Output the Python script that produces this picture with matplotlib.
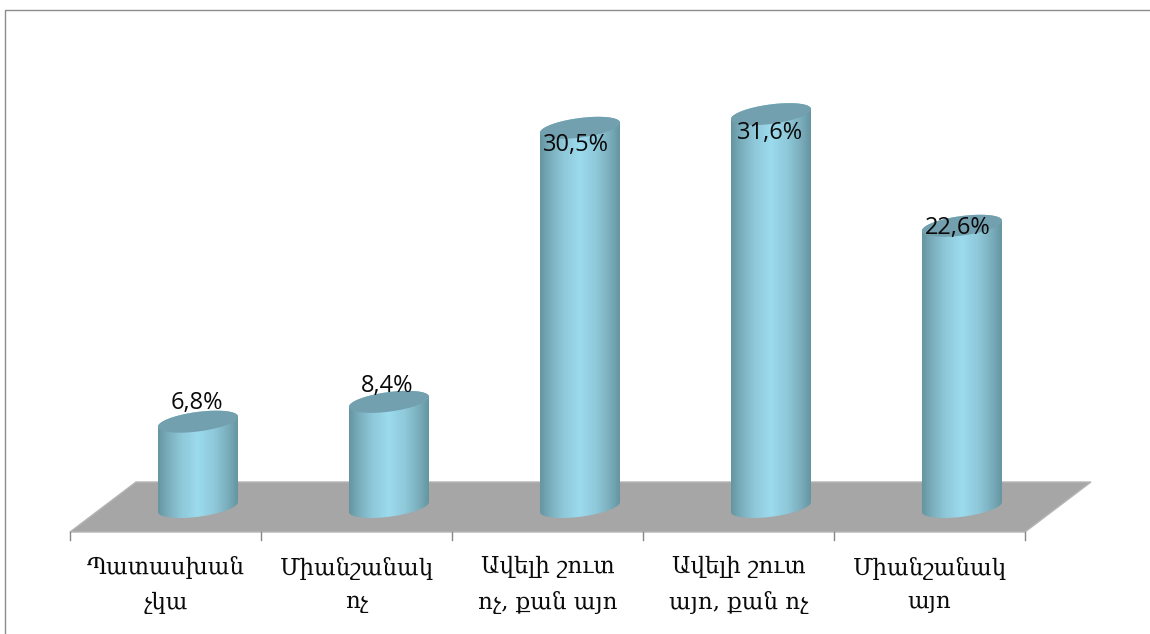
import numpy as np
import matplotlib
matplotlib.use("Agg")
import matplotlib.pyplot as plt
from matplotlib.colors import LinearSegmentedColormap
from matplotlib.patches import Polygon

categories = ["Պատասխան\nչկա", "Միանշանակ\nոչ", "Ավելի շուտ\nոչ, քան այո",
              "Ավելի շուտ\nայո, քան ոչ", "Միանշանակ\nայո"]
values = [6.8, 8.4, 30.5, 31.6, 22.6]
value_labels = ["6,8%", "8,4%", "30,5%", "31,6%", "22,6%"]

W, H = 1150, 634
PX_X = 191.0        # pixels per category
PX_Y = 12.4         # pixels per percent
X0, Y0 = 198, 506   # pixel position of first bar / zero level

fig = plt.figure(figsize=(W / 100, H / 100), dpi=100, facecolor="white")
ax = fig.add_axes([0, 0, 1, 1])
ax.axis("off")

n = len(categories)
dx = 1 / PX_X
dy = 1 / PX_Y

# outer frame
frame = "#8c8c8c"
ax.plot([(5 - X0) * dx, (5 - X0) * dx, (W - X0) * dx],
        [(Y0 - H) * dy, (Y0 - 10) * dy, (Y0 - 10) * dy], color=frame, lw=1, zorder=1)

# floor
front_y = (Y0 - 532) * dy
back_y = (Y0 - 482) * dy
left = (70 - X0) * dx
depth = 66 * dx
floor = Polygon([(left, front_y), (left + n, front_y),
                 (left + n + depth, back_y), (left + depth, back_y)],
                closed=True, facecolor="#a6a6a6", edgecolor="#b5b5b5", lw=1, zorder=2)
ax.add_patch(floor)

# tick marks
for i in range(n + 1):
    ax.plot([left + i, left + i], [front_y, front_y - 8 * dy], color="#868686", lw=1, zorder=2)

# cylinders
cmap = LinearSegmentedColormap.from_list(
    "cyl", [(0, "#64959f"), (0.12, "#7aadbc"), (0.3, "#8fc9da"), (0.5, "#9cdaed"),
            (0.7, "#8fc9da"), (0.88, "#7aadbc"), (1, "#64959f")])
grad = np.linspace(0, 1, 256).reshape(1, -1)
a = 40 * dx
b = 9.8 * dy
tilt = 5 / 40 * (dy / dx)
base = -1 * dy
t = np.linspace(0, 2 * np.pi, 121)

for i, v in enumerate(values):
    tb = np.linspace(np.pi, 2 * np.pi, 60)
    xb = i + a * np.cos(tb)
    yb = base + b * np.sin(tb) + tilt * a * np.cos(tb)
    tt = np.linspace(0, np.pi, 60)
    xt = i + a * np.cos(tt)
    yt = v + b * np.sin(tt) + tilt * a * np.cos(tt)
    clip = Polygon(np.column_stack([np.r_[xb, xt], np.r_[yb, yt]]), closed=True,
                   transform=ax.transData, facecolor="none", edgecolor="none")
    ax.add_patch(clip)
    im = ax.imshow(grad, cmap=cmap, aspect="auto", zorder=3,
                   extent=[i - a, i + a, -3, v + 3], interpolation="bilinear")
    im.set_clip_path(clip)
    ax.fill(i + a * np.cos(t), v + b * np.sin(t) + tilt * a * np.cos(t),
            color="#72a0af", lw=0, zorder=4)

ax.set_xlim(-X0 / PX_X, (W - X0) / PX_X)
ax.set_ylim((Y0 - H) / PX_Y, Y0 / PX_Y)

# data labels
label_dy = [19, 16, -17, -19, -2]   # px above the top-ellipse centre
label_dx = [-1, -2, -4, -1, -4]
for i, (v, s, oy, ox) in enumerate(zip(values, value_labels, label_dy, label_dx)):
    ax.text(i + ox * dx, v + oy * dy, s, ha="center", va="center", fontsize=17,
            family=["Open Sans", "DejaVu Sans"], color="#0a0a0a", zorder=6)

# category labels
for i, c in enumerate(categories):
    ax.text(left + i + 0.5, (Y0 - 585) * dy, c, ha="center", va="center",
            fontsize=16.5, family=["DejaVu Serif", "DejaVu Sans"], color="#0a0a0a",
            linespacing=1.7, zorder=6)

fig.savefig("out.png", dpi=100)
